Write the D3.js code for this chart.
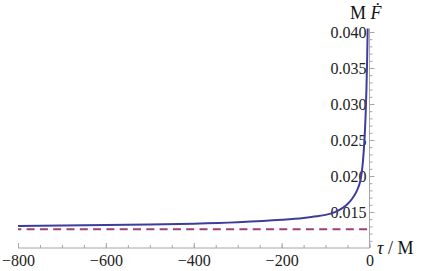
<!DOCTYPE html>
<html>
<head>
<meta charset="utf-8">
<script src="https://cdn.jsdelivr.net/npm/d3@7"></script>
<style>
  body { margin: 0; background: #fff; }
  svg { display: block; }
  .axis path, .axis line { stroke: #a6a6a6; stroke-width: 1; }
  .minor path { display: none; }
  .lbl { font-family: "Liberation Serif", "DejaVu Serif", serif; font-size: 18px; fill: #111; }
</style>
</head>
<body>
<svg id="chart" width="423" height="271"></svg>
<script>
// proper time before horizon crossing, in units of M
const tau = [-800, -700, -600, -500, -400, -300, -200, -150, -120, -100, -80, -60, -50, -40, -30, -25, -20, -17, -15, -12, -9, -7, -5.5, -4.3, -3.9]
// M dF/dtau
const flux = [0.01306, 0.01311, 0.01318, 0.01327, 0.01338, 0.01358, 0.01392, 0.01418, 0.0144, 0.0146, 0.01495, 0.0156, 0.0161, 0.0168, 0.0178, 0.0185, 0.0196, 0.0208, 0.022, 0.0245, 0.0282, 0.032, 0.0358, 0.04, 0.0415]
// dashed asymptotic value
const asymTau = [-800, 0]
const asymFlux = [0.0126, 0.0126]

const xMajor = [-800, -600, -400, -200, 0]
const yMajor = [0.015, 0.020, 0.025, 0.030, 0.035, 0.040]

const svg = d3.select("#chart")
const x = d3.scaleLinear().domain([-800, 0]).range([18, 369.5])
const y = d3.scaleLinear().domain([0.010, 0.040]).range([248, 32])

const serif = '"Liberation Serif", "DejaVu Serif", serif'

// minor ticks
svg.append("g").attr("class", "axis minor")
  .attr("transform", `translate(0,${y(0.010)})`)
  .call(d3.axisBottom(x).tickValues(d3.range(-800, 1, 50)).tickSizeInner(-3).tickSizeOuter(0).tickFormat(""))
svg.append("g").attr("class", "axis minor")
  .attr("transform", `translate(${x(0)},0)`)
  .call(d3.axisLeft(y).tickValues(d3.range(11, 41).map((d) => d / 1000)).tickSizeInner(-3).tickSizeOuter(0).tickFormat(""))

// major axes
const xAxis = svg.append("g").attr("class", "axis")
  .attr("transform", `translate(0,${y(0.010)})`)
  .call(d3.axisBottom(x).tickValues(xMajor).tickSizeInner(-5).tickSizeOuter(0).tickPadding(7)
    .tickFormat((d) => d < 0 ? "\u2212" + Math.abs(d) : d))
xAxis.select(".domain").attr("d", `M${x(-800)},0H${x(0)}`)

const yAxis = svg.append("g").attr("class", "axis")
  .attr("transform", `translate(${x(0)},0)`)
  .call(d3.axisLeft(y).tickValues(yMajor).tickSizeInner(-5).tickSizeOuter(0).tickPadding(3)
    .tickFormat(d3.format(".3f")))
yAxis.select(".domain").attr("d", `M0,${y(0.0405)}V${y(0.010)}`)

svg.selectAll(".axis").attr("font-family", serif).attr("font-size", 16)
svg.selectAll(".axis text").style("font-family", serif).style("font-size", "16px").attr("fill", "#222")

svg.append("clipPath").attr("id", "clip")
  .append("rect").attr("x", 0).attr("y", y(0.0405)).attr("width", 423).attr("height", 271)

const line = d3.line().x((d) => x(d[0])).y((d) => y(d[1])).curve(d3.curveMonotoneX)

svg.append("path")
  .attr("d", line(d3.zip(asymTau, asymFlux)))
  .attr("fill", "none").attr("stroke", "#a0407a").attr("stroke-width", 2)
  .attr("stroke-dasharray", "8,5.3").attr("stroke-dashoffset", 4.7)

svg.append("path")
  .attr("clip-path", "url(#clip)")
  .attr("d", line(d3.zip(tau, flux)))
  .attr("fill", "none").attr("stroke", "#3d3d9c").attr("stroke-width", 2)

// axis labels
const yl = svg.append("text").attr("class", "lbl").attr("x", 350).attr("y", 19)
yl.append("tspan").text("M ")
yl.append("tspan").attr("font-style", "italic").text("F\u0307")

const xl = svg.append("text").attr("class", "lbl").attr("x", 377).attr("y", 254)
xl.append("tspan").attr("font-style", "italic").text("\u03c4")
xl.append("tspan").text(" / M")
</script>
</body>
</html>
